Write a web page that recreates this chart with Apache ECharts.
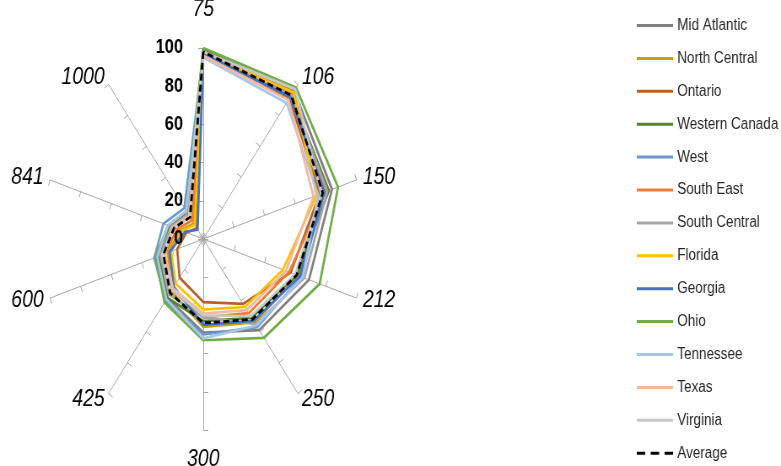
<!DOCTYPE html>
<html>
<head>
<meta charset="utf-8">
<script src="https://cdn.jsdelivr.net/npm/echarts@6/dist/echarts.min.js"></script>
<style>
  html, body { margin: 0; padding: 0; width: 781px; height: 466px; overflow: hidden; background: #fff; }
  /* the plot is drawn on a wider canvas and squeezed horizontally */
  #chart { width: 926px; height: 466px; transform: scaleX(0.8434); transform-origin: 0 0; }
</style>
</head>
<body>
<div id="chart"></div>
<script>
// Spoke labels, clockwise from the top
const categories = ['75', '106', '150', '212', '250', '300', '425', '600', '841', '1000'];
const radialTicks = [0, 20, 40, 60, 80, 100];

const regionNames = ['Mid Atlantic', 'North Central', 'Ontario', 'Western Canada', 'West', 'South East',
  'South Central', 'Florida', 'Georgia', 'Ohio', 'Tennessee', 'Texas', 'Virginia', 'Average'];

const midAtlantic   = [99, 96, 84, 69, 59, 49, 38, 30, 22, 17];
const northCentral  = [98, 95, 77, 62, 54, 46, 34, 23, 15, 10];
const ontario       = [98, 91, 76, 57, 42, 33, 25, 17, 11, 7];
const westernCanada = [99, 93, 82, 61, 51, 43, 38, 29, 22, 16];
const west          = [97, 92, 79, 64, 57, 50, 40, 32, 26, 20];
const southEast     = [98, 94, 80, 56, 48, 41, 33, 25, 17, 12];
const southCentral  = [98, 93, 81, 66, 55, 41, 36, 28, 21, 16];
const florida       = [97, 95, 74, 52, 44, 37, 29, 21, 14, 9];
const georgia       = [97, 92, 79, 63, 53, 45, 31, 22, 12, 6];
const ohio          = [100, 98, 88, 76, 64, 53, 41, 31, 23, 18];
const tennessee     = [95, 88, 75, 65, 56, 52, 39, 30, 23, 18];
const texas         = [96, 90, 72, 54, 46, 39, 32, 25, 20, 15];
const virginia      = [98, 97, 77, 60, 50, 40, 33, 27, 19, 14];
const average       = [98, 93, 78, 61, 52, 44, 35, 26, 19, 14];

const seriesValues = [midAtlantic, northCentral, ontario, westernCanada, west, southEast,
  southCentral, florida, georgia, ohio, tennessee, texas, virginia, average];

const colors = ['#808080', '#c9a000', '#b5622a', '#548235', '#6a9bcd', '#ed7d31',
  '#a5a5a5', '#ffc000', '#4472c4', '#70ad47', '#a9c5e8', '#f4b7a0', '#c8c8c8', '#000000'];

// ECharts lays radar spokes counter-clockwise; reorder so they run clockwise
const order = [0].concat(categories.map((_, i) => i).slice(1).reverse());

const axisFont = 'Liberation Sans, Arial, sans-serif';

const indicators = order.map(i => {
  const ind = { name: categories[i], min: 0, max: 100 };
  if (i === 0) ind.nameGap = 27;
  else if (i === 5) ind.nameGap = 18;
  return ind;
});

// Overlay radar that only carries the value scale on the top spoke, drawn above the lines
const scaleIndicators = order.map(i => {
  const ind = { name: '', min: 0, max: 100 };
  if (i === 0) {
    ind.axisLabel = {
      show: true, fontSize: 19.5, fontWeight: 'bold', color: '#000',
      fontFamily: axisFont, margin: 24,
      showMinLabel: true, showMaxLabel: true,
      formatter: v => radialTicks.indexOf(v) >= 0 ? String(v) : ''
    };
  }
  return ind;
});

const series = [{
  type: 'radar',
  radarIndex: 0,
  symbol: 'none',
  data: seriesValues.map((vals, k) => ({
    name: regionNames[k],
    value: order.map(i => vals[i]),
    lineStyle: {
      color: colors[k],
      width: k === seriesValues.length - 1 ? 2.8 : 2.7,
      type: k === seriesValues.length - 1 ? [7, 4] : 'solid'
    },
    itemStyle: { color: colors[k] }
  }))
}];

const solidIcon = 'path://M0,0h43v3h-43z';
const dashIcon = 'path://M0,0h10v3h-10z M16.5,0h10v3h-10z M33,0h10v3h-10z';

const option = {
  animation: false,
  legend: {
    orient: 'vertical',
    left: 755,
    top: 17,
    padding: 0,
    itemWidth: 43,
    itemHeight: 3,
    itemGap: 15.9,
    textStyle: { fontSize: 16, color: '#262626', fontFamily: axisFont, lineHeight: 17 },
    data: regionNames.map((n, k) => ({
      name: n,
      icon: k === regionNames.length - 1 ? dashIcon : solidIcon,
      itemStyle: { color: colors[k] }
    }))
  },
  radar: [{
    center: [241, 239],
    radius: 191,
    shape: 'polygon',
    splitNumber: 5,
    nameGap: 8,
    axisName: { color: '#000', fontSize: 23, fontStyle: 'italic', fontFamily: axisFont },
    axisLine: { lineStyle: { color: '#a6a6a6', width: 1 } },
    axisTick: { show: true, length: 6, lineStyle: { color: '#a6a6a6', width: 1 } },
    axisLabel: { show: false },
    splitLine: { show: false },
    splitArea: { show: false },
    indicator: indicators
  }, {
    z: 10,
    center: [241, 239],
    radius: 191,
    shape: 'polygon',
    splitNumber: 5,
    axisName: { show: false },
    axisLine: { show: false },
    axisTick: { show: false },
    axisLabel: { show: false },
    splitLine: { show: false },
    splitArea: { show: false },
    indicator: scaleIndicators
  }],
  series: series
};

const chart = echarts.init(document.getElementById('chart'), null, { renderer: 'canvas' });
chart.setOption(option);
</script>
</body>
</html>
